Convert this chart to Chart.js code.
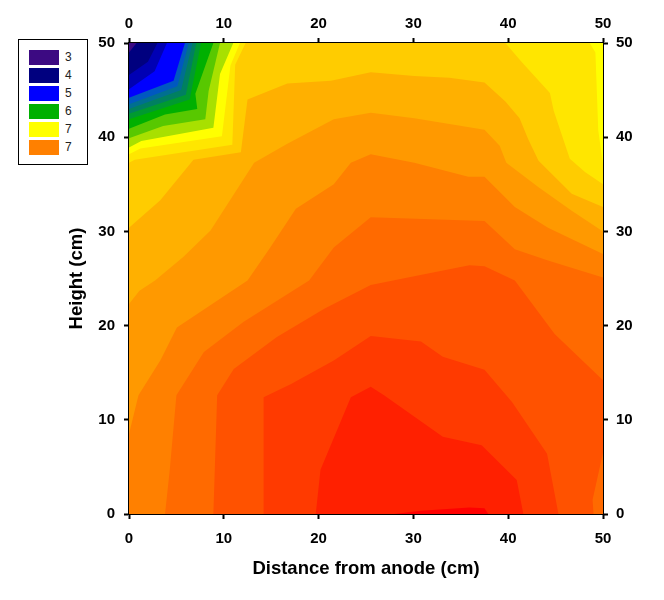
<!DOCTYPE html>
<html>
<head>
<meta charset="utf-8">
<style>
  html, body { margin: 0; padding: 0; background: #fff; }
  #wrap { position: relative; width: 664px; height: 600px; }
  #legend { position: absolute; left: 18px; top: 39px; width: 68px; height: 124px; border: 1px solid #000; background: #fff;
    font: 12px "Liberation Sans", Arial, sans-serif; color: #222; }
  #legend div.row { position: absolute; left: 10px; height: 15px; line-height: 15px; white-space: nowrap; }
  #legend span.sw { display: inline-block; width: 30px; height: 15px; margin-right: 6px; vertical-align: top; }
</style>
<script src="https://cdn.jsdelivr.net/npm/chart.js@4/dist/chart.umd.min.js"></script>
</head>
<body>
<div id="wrap">
  <canvas id="myChart" width="664" height="600"></canvas>
  <div id="legend"></div>
</div>
<script>
// legend
const legendLabels = ["3", "4", "5", "6", "7", "7"];
const legendColors = ["#3c0a82", "#00007f", "#0000ff", "#00b000", "#ffff00", "#ff8000"];

// tick labels
const tickValues = [0, 10, 20, 30, 40, 50];

// contour outlines [distance, height], one per level, coolest first
const cPurple = [[0, 0], [0, 50], [50, 50], [50, 0]];
const cNavy = [[0, 49], [0.8, 50], [50, 50], [50, 0], [0, 0]];
const cDeepBlue = [[0, 46.6], [2.0, 48], [3.0, 50], [50, 50], [50, 0], [0, 0]];
const cBlue = [[0, 45.1], [2.7, 47], [4.0, 50], [50, 50], [50, 0], [0, 0]];
const cSteel = [[0, 44.2], [4.7, 46], [5.9, 50], [50, 50], [50, 0], [0, 0]];
const cTeal = [[0, 43.5], [5.1, 45.4], [6.3, 50], [50, 50], [50, 0], [0, 0]];
const cSea = [[0, 43], [5.5, 45], [6.7, 50], [50, 50], [50, 0], [0, 0]];
const cEmerald = [[0, 42.5], [6, 44.5], [7.1, 50], [50, 50], [50, 0], [0, 0]];
const cGreen = [[0, 41.9], [6.4, 44], [7.6, 50], [50, 50], [50, 0], [0, 0]];
const cLime = [[0, 40.9], [3.8, 42.4], [7.2, 43], [7, 44.6], [8.9, 50], [50, 50], [50, 0], [0, 0]];
const cYellowGreen = [[0, 39.9], [3.6, 41.2], [8.05, 41.9], [8.4, 44.9], [9.6, 50], [50, 50], [50, 0], [0, 0]];
const cBrightYellow = [[0, 38.9], [1.3, 39.6], [8.9, 41], [9.6, 46.7], [11, 50], [50, 50], [50, 0], [0, 0]];
const cYellow = [[0, 38.2], [1.2, 38.8], [9.8, 40.1], [10.7, 47.6], [11.7, 50], [48.6, 50], [49.2, 49], [49.5, 40.7], [50, 37.1], [50, 0], [0, 0]];
const cGold = [[0, 37.3], [0.6, 37.6], [10.9, 39.2], [11.2, 47.7], [12.3, 50], [39.7, 50], [41.4, 48], [44.4, 44.7], [44.8, 42.8], [46.5, 37.7], [48.1, 36.3], [50, 35], [50, 0], [0, 0]];
const cAmber = [[0, 30.4], [3.3, 33.3], [6.8, 37.6], [11.8, 38.4], [12.5, 44], [16.7, 45.7], [21.3, 46], [25.5, 46.9], [30.1, 46.5], [33.8, 46.3], [37.5, 45.8], [39.7, 43.8], [41.2, 42], [42.1, 39.8], [43.2, 37.5], [46.7, 34], [50, 32.6], [50, 0], [0, 0]];
const cOrange1 = [[0, 22.3], [1.1, 23.7], [2.75, 24.8], [5.75, 27.3], [8.6, 30.1], [13.2, 37.3], [16.7, 39.3], [21.6, 41.9], [25.5, 42.6], [30.1, 42], [33.8, 41.4], [37.5, 40.8], [39.1, 39.1], [39.8, 37.3], [43.2, 34.7], [46.7, 32.2], [50, 30], [50, 0], [0, 0]];
const cOrange2 = [[0, 8.5], [1, 12.6], [3.3, 16.3], [5.05, 19.8], [12.5, 24.8], [14.9, 28.3], [17.6, 32.4], [21.6, 35], [23.4, 37.3], [25.5, 38.2], [30.1, 37.3], [35.8, 35.8], [37.5, 35.8], [40.7, 32.6], [44.2, 30.4], [50, 27.6], [50, 0], [0, 0]];
const cOrange3 = [[3.8, 0], [4.3, 4.7], [5, 12.6], [7.9, 17.2], [12.1, 20.4], [19, 24.8], [21.6, 28.3], [25.5, 31.5], [37.5, 31.1], [40.7, 28.1], [44.2, 26.9], [50, 25.1], [50, 0]];
const cOrange4 = [[8.9, 0], [9.3, 12.6], [11.05, 15.4], [15.6, 18.8], [20.6, 21.8], [25.5, 24.3], [28.9, 25], [35.9, 26.4], [37.5, 26.3], [40.7, 24.8], [44.9, 19.1], [50, 14.2], [50, 6.5], [48.9, 1.5], [49, 0]];
const cRed1 = [[14.2, 0], [14.2, 12.4], [17.1, 13.8], [21.6, 16.3], [25.5, 18.9], [30.8, 18.3], [33.1, 16.7], [37.5, 15.3], [40.4, 11.9], [44.1, 6.4], [45.3, 0]];
const cRed2 = [[19.7, 0], [20.2, 4.7], [23.4, 12.4], [25.5, 13.5], [26.9, 12.6], [33.1, 8.2], [37.2, 7.3], [40.9, 3.6], [41.6, 0]];
const cRed3 = [[28, 0], [30.8, 0.35], [35.9, 0.7], [37.5, 0.6], [37.9, 0]];

const contours = [cPurple, cNavy, cDeepBlue, cBlue, cSteel, cTeal, cSea, cEmerald, cGreen, cLime, cYellowGreen,
  cBrightYellow, cYellow, cGold, cAmber, cOrange1, cOrange2, cOrange3, cOrange4, cRed1, cRed2, cRed3];
const contourColors = ["#3c0a82", "#00007f", "#0000b4", "#0000ff", "#0058c0", "#006f90", "#008060", "#009a30", "#00b000", "#58c800", "#a8e000",
  "#ffff00", "#ffe600", "#ffcc00", "#ffb000", "#ff9900", "#ff8000", "#ff6a00", "#ff5200", "#ff3a00", "#ff2000", "#ff0000"];

// legend box
const legendEl = document.getElementById("legend");
legendLabels.forEach((label, i) => {
  const row = document.createElement("div");
  row.className = "row";
  row.style.top = (10 + i * 18) + "px";
  row.innerHTML = '<span class="sw" style="background:' + legendColors[i] + '"></span>' + label;
  legendEl.appendChild(row);
});

// chart.js draws the first dataset on top, so hottest level goes first
const datasets = contours.map((pts, i) => ({
  data: pts.concat([pts[0]]).map(p => ({ x: p[0], y: p[1] })),
  showLine: true,
  fill: "shape",
  backgroundColor: contourColors[i],
  borderWidth: 0,
  pointRadius: 0,
  tension: 0,
})).reverse();

function axis(position, size, tickPad, extra) {
  const horizontal = position === "top" || position === "bottom";
  return Object.assign({
    type: "linear",
    position: position,
    min: 0,
    max: 50,
    z: 1,
    afterBuildTicks: s => { s.ticks = tickValues.map(v => ({ value: v })); },
    afterFit: s => { if (horizontal) s.height = size; else s.width = size; },
    border: { display: true, color: "#000", width: 2 },
    grid: { drawOnChartArea: false, drawTicks: true, tickLength: 5, tickWidth: 2, tickColor: "#000" },
    ticks: {
      color: "#000",
      maxRotation: 0,
      font: { family: "'Liberation Sans'", size: 15, weight: "bold" },
      padding: tickPad,
    },
  }, extra || {});
}

const titleFont = { family: "'Liberation Sans'", size: 18.5, weight: "bold" };

new Chart(document.getElementById("myChart").getContext("2d"), {
  type: "scatter",
  data: { datasets: datasets },
  options: {
    responsive: false,
    animation: false,
    layout: { padding: 0 },
    plugins: { legend: { display: false }, tooltip: { enabled: false } },
    scales: {
      x: axis("bottom", 86, 11, {
        title: { display: true, text: "Distance from anode (cm)", color: "#000", font: titleFont, padding: { top: 0, bottom: 20 } },
      }),
      x2: axis("top", 43, 5),
      y: axis("left", 129, 9, {
        title: { display: true, text: "Height (cm)", color: "#000", font: titleFont, padding: { top: 66, bottom: 0 } },
      }),
      y2: axis("right", 61, 8),
    },
  },
});
</script>
</body>
</html>
